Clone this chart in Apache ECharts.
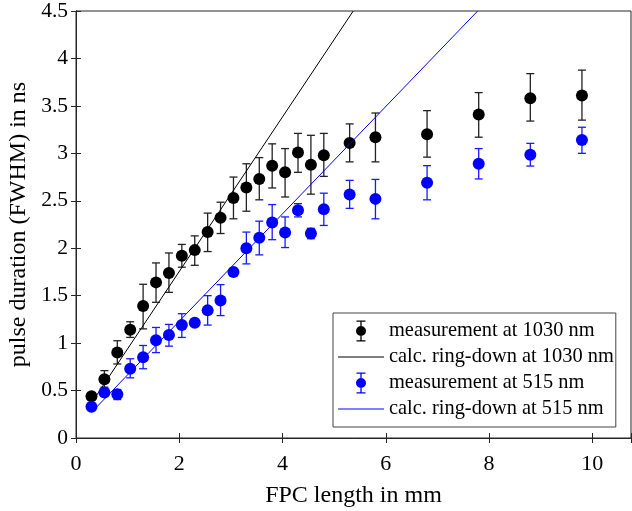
<!DOCTYPE html>
<html>
<head>
<meta charset="utf-8">
<script src="https://cdn.jsdelivr.net/npm/echarts@6/dist/echarts.min.js"></script>
<style>
  html, body { margin: 0; padding: 0; background: #fff; }
  #chart { width: 632px; height: 511px; }
</style>
</head>
<body>
<div id="chart"></div>
<script>
// FPC lengths in mm
var lengths = [0.3, 0.55, 0.8, 1.05, 1.3, 1.55, 1.8, 2.05, 2.3, 2.55, 2.8, 3.05, 3.3,
    3.55, 3.8, 4.05, 4.3, 4.55, 4.8, 5.3, 5.8, 6.8, 7.8, 8.8, 9.8];

// measured pulse duration at 1030 nm (ns), with error bar ends
var meas1030 = [0.44, 0.62, 0.90, 1.14, 1.39, 1.64, 1.74, 1.92, 1.98, 2.17, 2.32, 2.53, 2.64,
    2.73, 2.87, 2.80, 3.01, 2.88, 2.98, 3.11, 3.17, 3.20, 3.41, 3.58, 3.61];
var low1030 = [0.42, 0.535, 0.78, 1.06, 1.15, 1.43, 1.535, 1.80, 1.82, 1.965, 2.155, 2.31, 2.39,
    2.51, 2.635, 2.54, 2.80, 2.57, 2.757, 2.91, 2.91, 2.96, 3.17, 3.34, 3.35];
var high1030 = [0.46, 0.71, 1.025, 1.225, 1.62, 1.845, 1.95, 2.04, 2.13, 2.37, 2.485, 2.75, 2.89,
    2.955, 3.10, 3.05, 3.21, 3.19, 3.21, 3.31, 3.425, 3.45, 3.64, 3.84, 3.877];

// measured pulse duration at 515 nm (ns), with error bar ends
var meas515 = [0.33, 0.48, 0.46, 0.73, 0.85, 1.03, 1.085, 1.19, 1.215, 1.345, 1.45, 1.75, 2.0,
    2.11, 2.27, 2.165, 2.40, 2.155, 2.41, 2.567, 2.52, 2.69, 2.89, 2.985, 3.14];
var low515 = [0.31, 0.46, 0.405, 0.634, 0.73, 0.90, 0.968, 1.06, 1.20, 1.19, 1.29, 1.73, 1.835,
    1.93, 2.09, 2.007, 2.33, 2.10, 2.24, 2.42, 2.31, 2.51, 2.73, 2.866, 3.0];
var high515 = [0.35, 0.50, 0.51, 0.835, 0.975, 1.165, 1.197, 1.31, 1.23, 1.50, 1.616, 1.77, 2.17,
    2.285, 2.46, 2.33, 2.47, 2.21, 2.58, 2.715, 2.725, 2.87, 3.05, 3.105, 3.275];

// calculated ring-down (end points of the straight lines)
var ringX1030 = [0.3, 5.37];
var ring1030 = [0.37, 4.5];
var ringX515 = [0.3, 7.78];
var ring515 = [0.27, 4.5];

var xTicks = [0, 2, 4, 6, 8, 10];

var FONT = 'Liberation Serif';
var AXIS_COLOR = '#262626';

function pairs(xs, ys) {
    var out = [];
    for (var i = 0; i < xs.length; i++) out.push([xs[i], ys[i]]);
    return out;
}
function triples(xs, lo, hi) {
    var out = [];
    for (var i = 0; i < xs.length; i++) out.push([xs[i], lo[i], hi[i]]);
    return out;
}

function errorBars(color) {
    return function (params, api) {
        var x = api.value(0);
        var p1 = api.coord([x, api.value(1)]);
        var p2 = api.coord([x, api.value(2)]);
        var w = 4;
        var st = { stroke: color, lineWidth: 1.3 };
        return {
            type: 'group',
            children: [
                { type: 'line', shape: { x1: p1[0], y1: p1[1], x2: p2[0], y2: p2[1] }, style: st },
                { type: 'line', shape: { x1: p1[0] - w, y1: p1[1], x2: p1[0] + w, y2: p1[1] }, style: st },
                { type: 'line', shape: { x1: p2[0] - w, y1: p2[1], x2: p2[0] + w, y2: p2[1] }, style: st }
            ]
        };
    };
}

// legend icons in a 46x22 box (tiny corner dots keep the box size)
var corners = 'M0,0h0.01v0.01h-0.01z M46,22h-0.01v-0.01h0.01z ';
var errIcon = 'path://' + corners + 'M18.5,0.5h9v1.3h-9z M18.5,20.2h9v1.3h-9z ' +
    'M22.35,0.5h1.3v21h-1.3z M28,11a5,5,0,1,1,-10,0a5,5,0,1,1,10,0z';
var lineIcon = 'path://' + corners + 'M0,10.5h46v1h-46z';

var chart = echarts.init(document.getElementById('chart'), null, { renderer: 'canvas' });

var axisCommon = {
    axisLine: { show: true, lineStyle: { color: AXIS_COLOR, width: 1 } },
    axisTick: { show: true, inside: true, length: 5, lineStyle: { color: AXIS_COLOR, width: 1 } },
    splitLine: { show: false }
};

var option = {
    animation: false,
    backgroundColor: '#fff',
    textStyle: { fontFamily: FONT },
    grid: {
        left: 76, right: 1, top: 11, bottom: 73,
        containLabel: false, outerBoundsMode: 'none',
        show: true, borderColor: AXIS_COLOR, borderWidth: 1, backgroundColor: 'transparent'
    },
    legend: {
        orient: 'vertical',
        left: 333,
        top: 313,
        padding: [7, 2, 7, 5],
        itemGap: 4,
        itemWidth: 46,
        itemHeight: 22,
        borderColor: '#444',
        borderWidth: 1,
        backgroundColor: '#fff',
        selectedMode: false,
        textStyle: { fontFamily: FONT, fontSize: 20.4, color: '#000' },
        data: [
            { name: 'measurement at 1030 nm', icon: errIcon },
            { name: 'calc. ring-down at 1030 nm', icon: lineIcon },
            { name: 'measurement at 515 nm', icon: errIcon },
            { name: 'calc. ring-down at 515 nm', icon: lineIcon }
        ]
    },
    xAxis: [
        Object.assign({
            type: 'value', min: 0, max: 10.75, interval: 2, position: 'bottom',
            name: 'FPC length in mm', nameLocation: 'middle', nameGap: 46,
            nameTextStyle: { fontFamily: FONT, fontSize: 24, color: '#000' },
            axisLabel: {
                margin: 15, fontFamily: FONT, fontSize: 22, color: '#000',
                formatter: function (v) { return xTicks.indexOf(v) >= 0 ? String(v) : ''; }
            }
        }, axisCommon),
        Object.assign({
            type: 'value', min: 0, max: 10.75, interval: 2, position: 'top',
            axisLabel: { show: false }
        }, axisCommon)
    ],
    yAxis: [
        Object.assign({
            type: 'value', min: 0, max: 4.5, interval: 0.5, position: 'left',
            name: 'pulse duration (FWHM) in ns', nameLocation: 'middle', nameGap: 35,
            nameTextStyle: { fontFamily: FONT, fontSize: 24, color: '#000' },
            axisLabel: { margin: 8, fontFamily: FONT, fontSize: 21.5, color: '#000' }
        }, axisCommon),
        Object.assign({
            type: 'value', min: 0, max: 4.5, interval: 0.5, position: 'right',
            axisLabel: { show: false }
        }, axisCommon)
    ],
    series: [
        {
            name: 'err1030', type: 'custom', xAxisIndex: 0, yAxisIndex: 0,
            renderItem: errorBars('#222'), data: triples(lengths, low1030, high1030), z: 2
        },
        {
            name: 'measurement at 1030 nm', type: 'scatter', xAxisIndex: 0, yAxisIndex: 0,
            symbol: 'circle', symbolSize: 12, itemStyle: { color: '#000', opacity: 1 },
            data: pairs(lengths, meas1030), z: 3
        },
        {
            name: 'calc. ring-down at 1030 nm', type: 'line', xAxisIndex: 0, yAxisIndex: 0,
            symbol: 'none', lineStyle: { color: '#000', width: 1 }, itemStyle: { color: '#000' },
            data: pairs(ringX1030, ring1030), z: 4
        },
        {
            name: 'err515', type: 'custom', xAxisIndex: 0, yAxisIndex: 0,
            renderItem: errorBars('#1a1aff'), data: triples(lengths, low515, high515), z: 5
        },
        {
            name: 'measurement at 515 nm', type: 'scatter', xAxisIndex: 0, yAxisIndex: 0,
            symbol: 'circle', symbolSize: 12, itemStyle: { color: '#0000ff', opacity: 1 },
            data: pairs(lengths, meas515), z: 6
        },
        {
            name: 'calc. ring-down at 515 nm', type: 'line', xAxisIndex: 0, yAxisIndex: 0,
            symbol: 'none', lineStyle: { color: '#0000ff', width: 1 }, itemStyle: { color: '#0000ff' },
            data: pairs(ringX515, ring515), z: 7
        }
    ]
};

chart.setOption(option);
</script>
</body>
</html>
